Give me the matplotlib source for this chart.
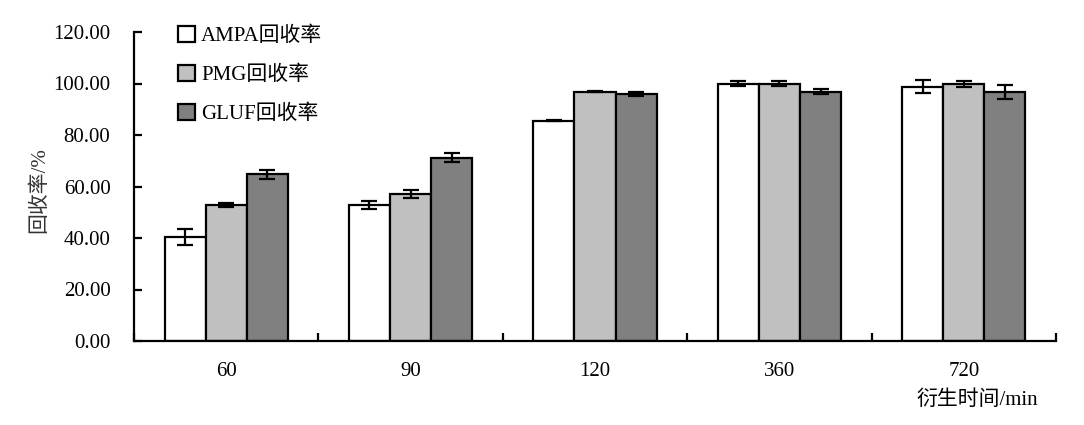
import matplotlib
matplotlib.use('Agg')
import matplotlib.pyplot as plt
import numpy as np

plt.rcParams['font.family'] = ['Liberation Serif', 'Noto Sans CJK SC']

times = ['60', '90', '120', '360', '720']
series = ['AMPA回收率', 'PMG回收率', 'GLUF回收率']
ampa = [40.4, 52.9, 85.6, 99.9, 98.8]
ampa_err = [3.2, 1.6, 0.3, 1.0, 2.4]
pmg = [52.9, 57.2, 96.8, 99.9, 99.8]
pmg_err = [0.7, 1.5, 0.2, 1.0, 1.2]
gluf = [64.7, 71.2, 96.0, 96.8, 96.7]
gluf_err = [1.8, 1.8, 0.8, 1.0, 2.9]
colors = ['#ffffff', '#c0c0c0', '#808080']

fig = plt.figure(figsize=(10.84, 4.25), dpi=100)
ax = fig.add_axes([134/1084, 84/425, 922/1084, 309/425])

x = np.arange(len(times))
w = 0.223
for i, (vals, errs) in enumerate([(ampa, ampa_err), (pmg, pmg_err), (gluf, gluf_err)]):
    ax.bar(x + (i - 1) * w, vals, w, yerr=errs, color=colors[i], edgecolor='black',
           linewidth=1.6, label=series[i],
           error_kw=dict(ecolor='black', elinewidth=1.6, capsize=5.5, capthick=1.6))

ax.set_xlim(-0.5, len(times) - 0.5)
ax.set_ylim(0, 120)
ax.set_yticks(np.arange(0, 121, 20))
ax.set_yticklabels(['%.2f' % v for v in np.arange(0, 121, 20)], fontsize=15)
ax.set_xticks(np.arange(-0.5, len(times), 1))
ax.set_xticklabels([])
ax.set_xticks(x, minor=True)
ax.set_xticklabels(times, minor=True, fontsize=15)
ax.tick_params(axis='x', which='major', direction='in', length=6, width=1.6)
ax.tick_params(axis='x', which='minor', length=0, pad=15)
ax.tick_params(axis='y', direction='in', length=6, width=1.6, pad=17)
for s in ['top', 'right']:
    ax.spines[s].set_visible(False)
for s in ['left', 'bottom']:
    ax.spines[s].set_linewidth(1.6)

ax.legend(loc='upper left', bbox_to_anchor=(0.048, 1.02), frameon=False, fontsize=15,
          handlelength=0.8, handleheight=0.8, handletextpad=0.3, labelspacing=0.9,
          borderaxespad=0, borderpad=0)

fig.text(40/1084, 235/425, '回收率/%', rotation=90, fontsize=15, ha='center', va='center', color='#333333')
fig.text(977/1084, 25/425, '衍生时间/min', fontsize=15, ha='center', va='center')

fig.savefig('out.png', dpi=100)
